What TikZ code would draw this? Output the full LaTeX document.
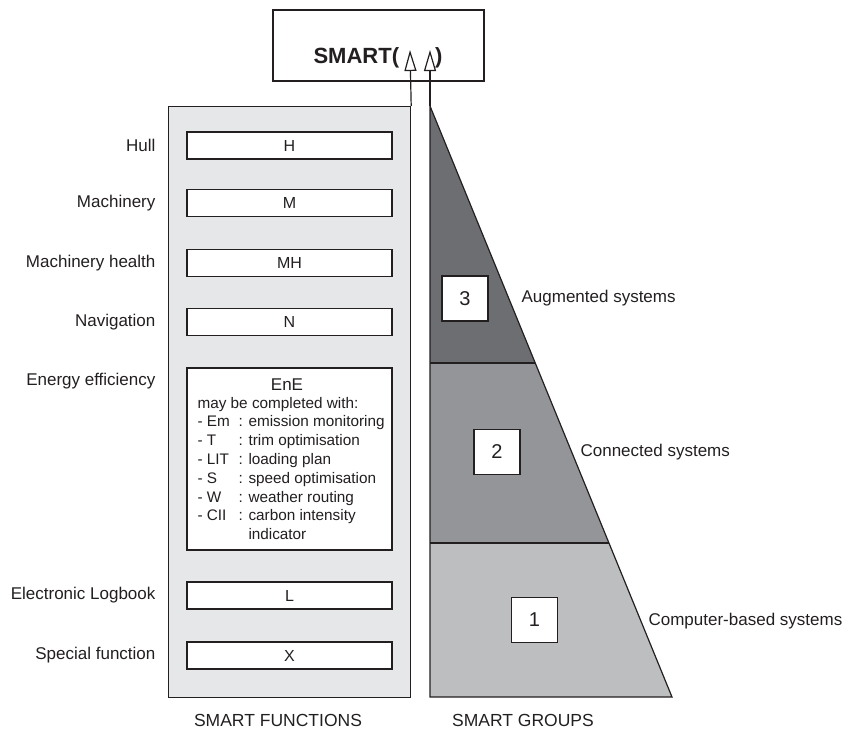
\documentclass[tikz,border=0pt]{standalone}
\usepackage{fontspec}
\setmainfont{Liberation Sans}
\usetikzlibrary{arrows.meta}
\definecolor{ink}{HTML}{231F20}
\definecolor{panelgray}{HTML}{E6E7E8}
\definecolor{gthree}{HTML}{6D6E71}
\definecolor{gtwo}{HTML}{939598}
\definecolor{gone}{HTML}{BCBEC0}
\begin{document}
\begin{tikzpicture}[x=1pt,y=-1pt,line width=1.2pt,
  fnbox/.style={draw=ink,fill=white,minimum width=205pt,minimum height=27pt,inner sep=0pt,
    text=ink,font=\fontsize{16}{19}\selectfont},
  lab/.style={inner sep=0pt,text=ink,font=\fontsize{17}{20}\selectfont},
  numbox/.style={draw=ink,fill=white,minimum width=46pt,minimum height=45pt,inner sep=0pt,
    text=ink,font=\fontsize{20}{24}\selectfont},
  uparrow/.style={draw=ink,-{Triangle[open,length=21pt,width=12pt]}},
  enetext/.style={inner sep=0pt,text=ink,font=\fontsize{15.3}{18.8}\selectfont}
]
\useasboundingbox (0,0) rectangle (846,729);

% top box
\node[draw=ink,fill=white,minimum width=211pt,minimum height=71pt,inner sep=0pt] (smart) at (378.5,45.5) {};
\node[inner sep=0pt,anchor=base,text=ink,font=\fontsize{22}{26}\selectfont\bfseries] (smarttxt) at (378,63) {SMART(\hspace{36pt})};

% functions panel
\node[draw=ink,fill=panelgray,minimum width=242pt,minimum height=591pt,inner sep=0pt,anchor=north west] (panel) at (168,106) {};

\node[fnbox] (H) at (289.5,145.5) {H};
\node[fnbox] (M) at (289.5,203) {M};
\node[fnbox] (MH) at (289.5,263) {MH};
\node[fnbox] (N) at (289.5,322) {N};
\node[fnbox,minimum height=182pt] (EnE) at (289.5,459) {};
\node[fnbox] (L) at (289.5,595.5) {L};
\node[fnbox] (X) at (289.5,655.5) {X};

\node[lab,anchor=east] (lH) at (156,145.5) {Hull};
\node[lab,anchor=east] (lM) at (156,203) {Machinery};
\node[lab,anchor=east] (lMH) at (156,263) {Machinery health};
\node[lab,anchor=east] (lN) at (156,322) {Navigation};
\node[lab,anchor=east] (lEnE) at (156,381) {Energy efficiency};
\node[lab,anchor=east] (lL) at (156,595.5) {Electronic Logbook};
\node[lab,anchor=east] (lX) at (156,655.5) {Special function};

% EnE content
\node[enetext,anchor=base,font=\fontsize{17}{20}\selectfont] (enetitle) at (287,390) {EnE};
\node[enetext,anchor=base west] (enelist) at (197,408) {%
  \begin{tabular}[t]{@{}p{41pt}@{}l@{}}
  \multicolumn{2}{@{}l@{}}{may be completed with:}\\
  - Em & : emission monitoring\\
  - T & : trim optimisation\\
  - LIT & : loading plan\\
  - S & : speed optimisation\\
  - W & : weather routing\\
  - CII & : carbon intensity\\
   & \phantom{: }indicator
  \end{tabular}};

% groups triangle
\coordinate (apex) at (430,106);
\coordinate (bl) at (430,697);
\coordinate (br) at (672,697);
\coordinate (a3) at (430,363);
\coordinate (b3) at (535.2,363);
\coordinate (a2) at (430,543);
\coordinate (b2) at (608.9,543);
\fill[gthree] (apex) -- (b3) -- (a3) -- cycle;
\fill[gtwo] (a3) -- (b3) -- (b2) -- (a2) -- cycle;
\fill[gone] (a2) -- (b2) -- (br) -- (bl) -- cycle;
\draw[ink] (a3) -- (b3);
\draw[ink] (a2) -- (b2);
\draw[ink,line join=miter] (apex) -- (br) -- (bl) -- cycle;

\node[numbox] (n3) at (465,298.5) {3};
\node[numbox] (n2) at (497,452) {2};
\node[numbox] (n1) at (534.5,620) {1};

\node[lab,anchor=west] (g3) at (521,298) {Augmented systems};
\node[lab,anchor=west] (g2) at (580,452) {Connected systems};
\node[lab,anchor=west] (g1) at (648,621) {Computer-based systems};

% arrows
\coordinate (tipL) at (410,50);
\coordinate (tipR) at (430,50);
\draw[uparrow] (panel.north east) -- (tipL);
\draw[uparrow] (apex) -- (tipR);

% captions
\node[lab,font=\fontsize{17.5}{20}\selectfont] (capF) at (278,720) {SMART FUNCTIONS};
\node[lab,font=\fontsize{17.5}{20}\selectfont] (capG) at (523,720) {SMART GROUPS};
\end{tikzpicture}
\end{document}
